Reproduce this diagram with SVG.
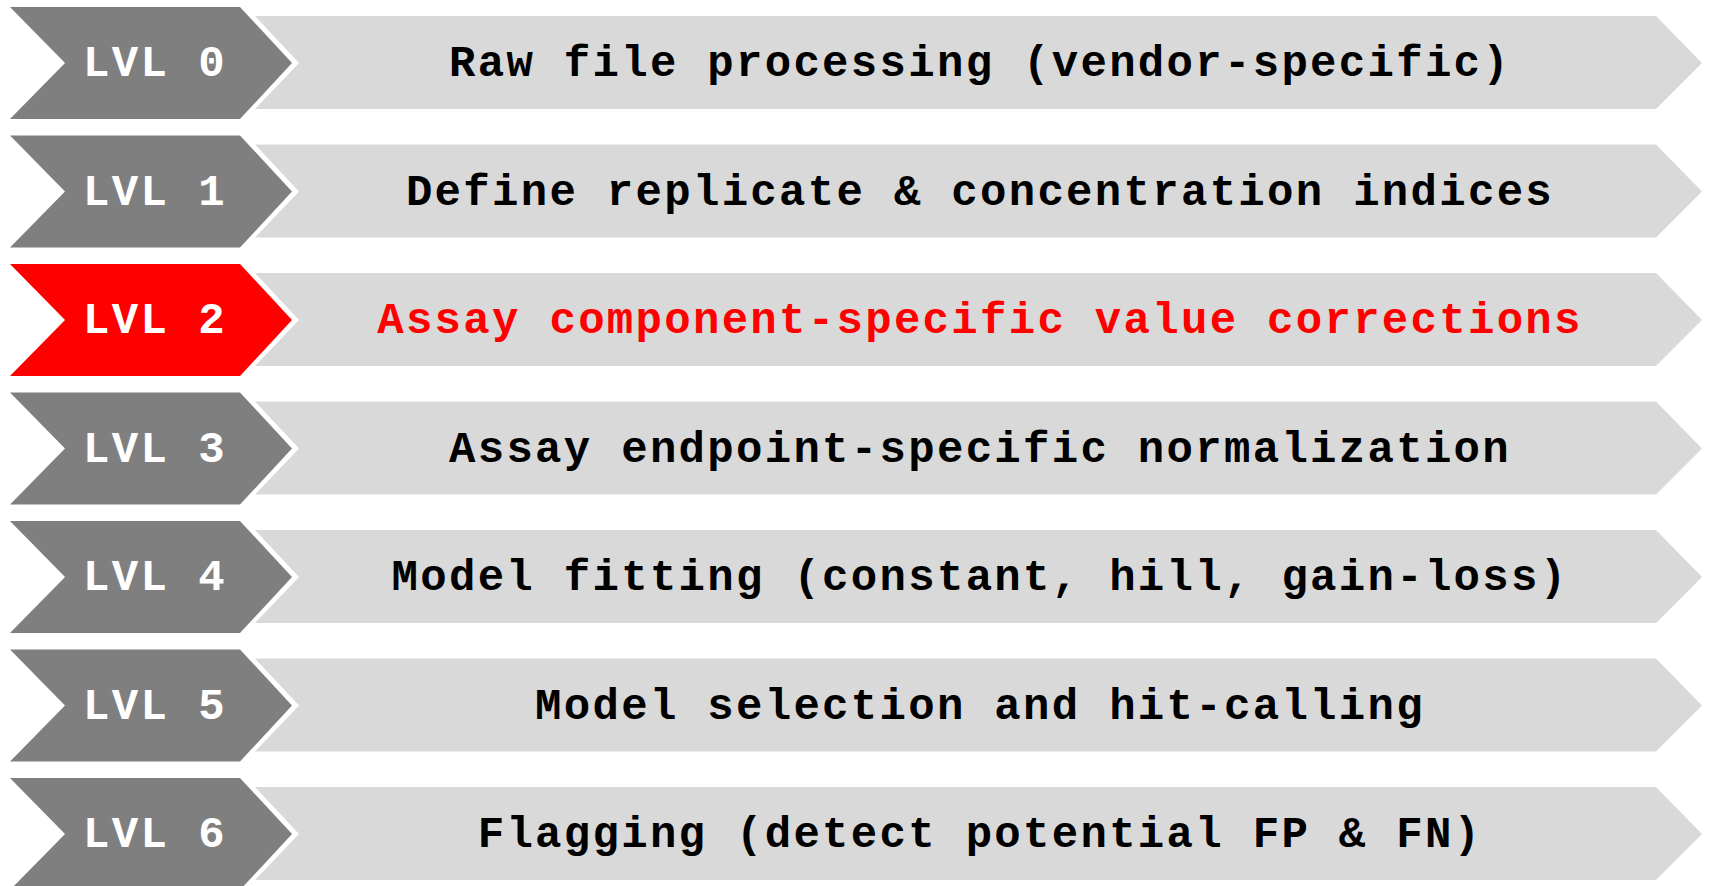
<svg xmlns="http://www.w3.org/2000/svg" width="1709" height="886" viewBox="0 0 1709 886">
  <style>
    .tag { fill: #7f7f7f; }
    .tag.active { fill: #ff0000; }
    .band { fill: #d9d9d9; }
    .lvl { font-family: "Liberation Mono", "Courier New", monospace; font-weight: bold; font-size: 44px; letter-spacing: 2.4px; fill: #ffffff; text-anchor: middle; }
    .desc { font-family: "Liberation Mono", "Courier New", monospace; font-weight: bold; font-size: 44px; letter-spacing: 2.3px; fill: #000000; text-anchor: middle; }
    .desc.active { fill: #ff0000; }
  </style>
  <defs>
    <!-- level tag chevron, row-relative -->
    <polygon id="tagShape" points="10,0 240,0 292,56 240,112 10,112 65,56"/>
    <!-- description band chevron, row-relative -->
    <polygon id="bandShape" points="255,9 1656,9 1702,56 1656,102 255,102 299,56"/>
  </defs>
  <rect width="1709" height="886" fill="#ffffff"/>

  <g id="level0" transform="translate(0,7)">
    <use href="#bandShape" class="band"/>
    <use href="#tagShape" class="tag"/>
    <text class="lvl" x="155" y="69">LVL 0</text>
    <text class="desc" x="980" y="69">Raw file processing (vendor-specific)</text>
  </g>

  <g id="level1" transform="translate(0,135.5)">
    <use href="#bandShape" class="band"/>
    <use href="#tagShape" class="tag"/>
    <text class="lvl" x="155" y="69">LVL 1</text>
    <text class="desc" x="980" y="69">Define replicate &amp; concentration indices</text>
  </g>

  <g id="level2" transform="translate(0,264)">
    <use href="#bandShape" class="band"/>
    <use href="#tagShape" class="tag active"/>
    <text class="lvl" x="155" y="69">LVL 2</text>
    <text class="desc active" x="980" y="69">Assay component-specific value corrections</text>
  </g>

  <g id="level3" transform="translate(0,392.5)">
    <use href="#bandShape" class="band"/>
    <use href="#tagShape" class="tag"/>
    <text class="lvl" x="155" y="69">LVL 3</text>
    <text class="desc" x="980" y="69">Assay endpoint-specific normalization</text>
  </g>

  <g id="level4" transform="translate(0,521)">
    <use href="#bandShape" class="band"/>
    <use href="#tagShape" class="tag"/>
    <text class="lvl" x="155" y="69">LVL 4</text>
    <text class="desc" x="980" y="69">Model fitting (constant, hill, gain-loss)</text>
  </g>

  <g id="level5" transform="translate(0,649.5)">
    <use href="#bandShape" class="band"/>
    <use href="#tagShape" class="tag"/>
    <text class="lvl" x="155" y="69">LVL 5</text>
    <text class="desc" x="980" y="69">Model selection and hit-calling</text>
  </g>

  <g id="level6" transform="translate(0,778)">
    <use href="#bandShape" class="band"/>
    <use href="#tagShape" class="tag"/>
    <text class="lvl" x="155" y="69">LVL 6</text>
    <text class="desc" x="980" y="69">Flagging (detect potential FP &amp; FN)</text>
  </g>
</svg>
